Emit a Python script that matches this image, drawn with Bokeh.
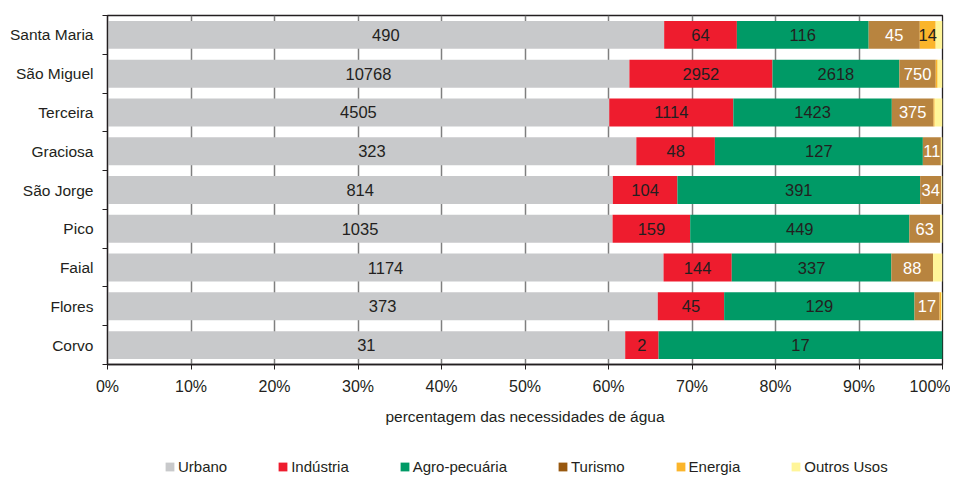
import numpy as np
from bokeh.plotting import figure
from bokeh.layouts import column
from bokeh.models import (ColumnDataSource, Range1d, FixedTicker, NumeralTickFormatter,
                          Legend, LegendItem)
from bokeh.core.properties import value
from bokeh.embed import file_html
from bokeh.resources import INLINE

# ---- data (top to bottom) ----
islands = ["Santa Maria", "São Miguel", "Terceira", "Graciosa", "São Jorge",
           "Pico", "Faial", "Flores", "Corvo"]
urbano    = [490, 10768, 4505, 323, 814, 1035, 1174, 373, 31]
industria = [64, 2952, 1114, 48, 104, 159, 144, 45, 2]
agro      = [116, 2618, 1423, 127, 391, 449, 337, 129, 17]
turismo   = [45, 750, 375, 11, 34, 63, 88, 17, 0]
energia   = [14, 40, 10, 0, 0, 0, 0, 1, 0]
outros    = [6, 100, 70, 1, 2, 5, 20, 1, 0]

series_names = ["Urbano", "Indústria", "Agro-pecuária", "Turismo", "Energia", "Outros Usos"]
series_vals = [urbano, industria, agro, turismo, energia, outros]
bar_colors = ["#c8c9cb", "#ee1c2e", "#009a66", "#b8843f", "#fbb52b", "#fff599"]
legend_colors = ["#c8c9cb", "#ee1c2e", "#009a66", "#98580f", "#fbb52b", "#fff599"]
label_colors = ["#231f20", "#231f20", "#231f20", "#ffffff", "#231f20", "#231f20"]
x_ticks = [0, 0.1, 0.2, 0.3, 0.4, 0.5, 0.6, 0.7, 0.8, 0.9, 1.0]
x_label = "percentagem das necessidades de água"

FONT = "Liberation Sans"
TXT = "#231f20"

vals = np.array(series_vals, dtype=float)          # (6, 9)
totals = vals.sum(axis=0)
shares = vals / totals
n = len(islands)
ypos = [n - i - 0.5 for i in range(n)]

keys = ["s%d" % k for k in range(len(series_names))]
data = {"y": ypos}
for k, key in enumerate(keys):
    data[key] = list(shares[k])
source = ColumnDataSource(data)

p = figure(width=950, height=436, x_range=Range1d(0, 1), y_range=Range1d(0, n),
           output_backend="svg", toolbar_location=None,
           min_border_left=107, min_border_right=8, min_border_top=15, min_border_bottom=72)

p.hbar_stack(keys, y="y", height=0.72, color=bar_colors, line_color=None, source=source)

# value labels
lx, ly, lt, lc = [], [], [], []
cum = np.cumsum(shares, axis=0)
for k in range(len(series_names)):
    if series_names[k] == "Outros Usos":
        continue
    for i in range(n):
        if vals[k, i] > 0 and shares[k, i] >= 0.015:
            left = cum[k, i] - shares[k, i]
            lx.append(left + shares[k, i] / 2)
            ly.append(ypos[i])
            lt.append(str(int(vals[k, i])))
            lc.append(label_colors[k])
lsrc = ColumnDataSource(dict(x=lx, y=ly, t=lt, c=lc))
p.text(x="x", y="y", text="t", text_color="c", text_align="center", text_baseline="middle",
       text_font=value(FONT), text_font_size="16.5px", source=lsrc)

# x axis
p.xaxis.ticker = FixedTicker(ticks=x_ticks)
p.xaxis.formatter = NumeralTickFormatter(format="0%")
p.xaxis.major_tick_out = 5
p.xaxis.major_tick_in = 0
p.xaxis.minor_tick_line_color = None
p.xaxis.major_label_text_font = FONT
p.xaxis.major_label_text_font_size = "16px"
p.xaxis.major_label_text_color = TXT
p.xaxis.major_label_standoff = 8
p.xaxis.axis_label = x_label
p.xaxis.axis_label_text_font = FONT
p.xaxis.axis_label_text_font_size = "15.5px"
p.xaxis.axis_label_text_font_style = "normal"
p.xaxis.axis_label_text_color = TXT
p.xaxis.axis_label_standoff = 10
p.xaxis.axis_line_color = TXT
p.xaxis.major_tick_line_color = TXT
p.xaxis.axis_line_width = 1.3

# y axis with labels at row centres, tick marks at row boundaries
p.yaxis.ticker = FixedTicker(ticks=ypos, minor_ticks=list(range(n + 1)))
p.yaxis.major_label_overrides = {ypos[i]: islands[i] for i in range(n)}
p.yaxis.major_tick_line_color = None
p.yaxis.major_tick_out = 0
p.yaxis.major_tick_in = 0
p.yaxis.minor_tick_out = 5
p.yaxis.minor_tick_in = 0
p.yaxis.minor_tick_line_color = TXT
p.yaxis.axis_line_color = TXT
p.yaxis.axis_line_width = 1.3
p.yaxis.major_label_standoff = 9
p.yaxis.major_label_text_font = FONT
p.yaxis.major_label_text_font_size = "15.5px"
p.yaxis.major_label_text_color = TXT

p.ygrid.visible = False
p.xgrid.grid_line_color = "#7f7f7f"
p.xgrid.grid_line_width = 1.5
p.outline_line_color = TXT
p.outline_line_width = 1.3
p.outline_line_alpha = 1.0

# legend in a small companion figure
pl = figure(width=950, height=41, x_range=Range1d(0, 1), y_range=Range1d(0, 1),
            x_axis_type=None, y_axis_type=None, output_backend="svg",
            toolbar_location=None, min_border=0)
pl.grid.visible = False
pl.outline_line_color = None
items = []
for k, name in enumerate(series_names):
    r = pl.hbar(y=[-10], right=[0.5], height=0.5, color=legend_colors[k], line_color=None)
    items.append(LegendItem(label=name, renderers=[r]))
legend = Legend(items=items, orientation="horizontal", location=(57, 2),
                glyph_width=11, glyph_height=11, label_height=14, label_standoff=3,
                spacing=50, padding=0, margin=0, border_line_color=None,
                background_fill_alpha=0, label_text_font=FONT,
                label_text_font_size="15px", label_text_color=TXT)
pl.add_layout(legend, "center")

layout = column(p, pl, spacing=0)
open("out.html", "w").write(file_html(layout, INLINE))
